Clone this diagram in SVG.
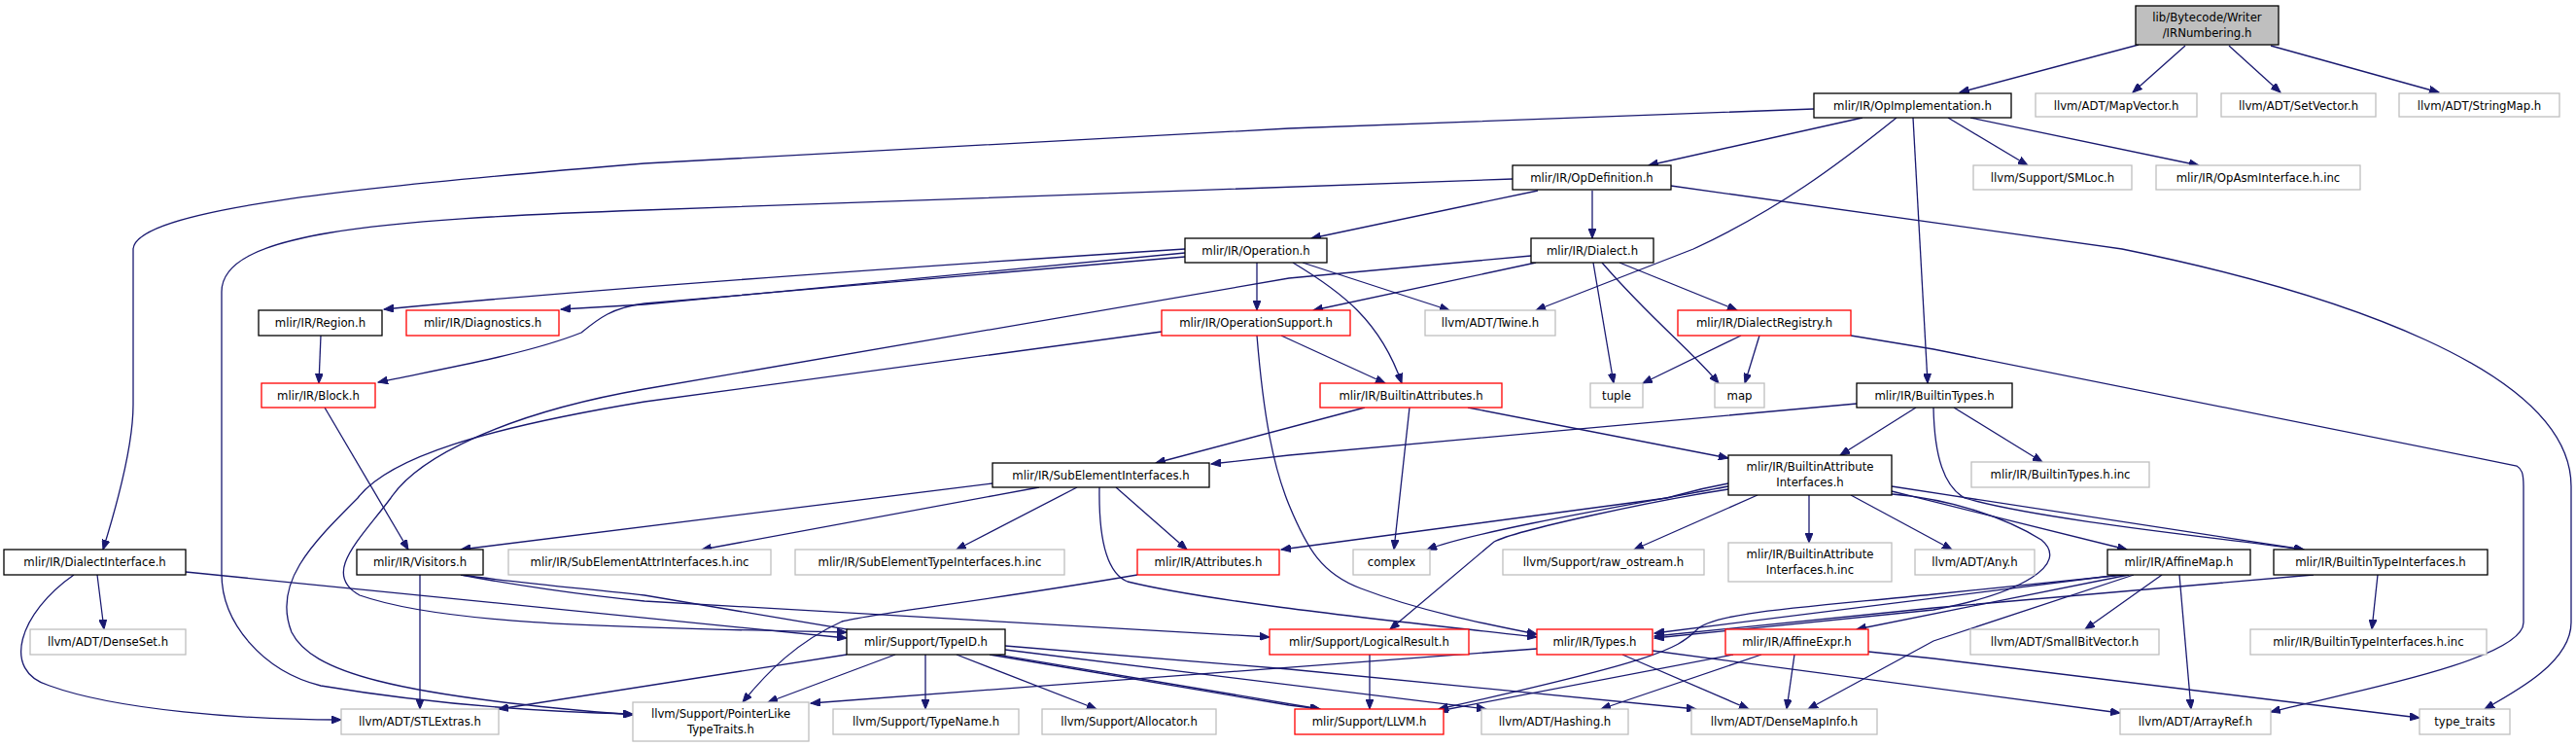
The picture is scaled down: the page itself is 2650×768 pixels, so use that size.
<svg xmlns="http://www.w3.org/2000/svg" width="2650" height="768" viewBox="0 0 2650 768">
<defs>
<marker id="ah" markerUnits="userSpaceOnUse" markerWidth="11" markerHeight="8" refX="10" refY="4" orient="auto">
<path d="M0,0 L10,4 L0,8 z" fill="#191970" stroke="#191970" stroke-width="1"/>
</marker>
</defs>
<style>
.e path{fill:none;stroke:#191970;stroke-width:1.3;marker-end:url(#ah)}
rect{fill:#fff;stroke-width:1.3}
.k rect{stroke:#000}
.r rect{stroke:#ff0000}
.g rect{stroke:#bfbfbf}
.root rect{fill:#bfbfbf;stroke:#000}
text{font-family:"DejaVu Sans Condensed","DejaVu Sans",sans-serif;font-stretch:condensed;font-size:13px;fill:#000;text-anchor:middle}
</style>
<rect x="0" y="0" width="2650" height="768" fill="#fff" stroke="none"/>
<g class="e" id="edges">
<path d="M2200,46 L2016,95"/>
<path d="M2248,47 L2194,95"/>
<path d="M2293,47 L2346,95"/>
<path d="M2336,47 L2509,95"/>
<path d="M1866,112 L1326,132 L663,168 C368,192 140,215 137,256 L137,416 C137,460 120,520 106,565"/>
<path d="M1916,121 L1696,170"/>
<path d="M1951,121 C1890,170 1830,215 1742,256 L1580,319"/>
<path d="M2004,121 L2086,170"/>
<path d="M2027,121 L2262,170"/>
<path d="M1968,121 C1975,250 1980,330 1983,394"/>
<path d="M1582,196 L1349,245"/>
<path d="M1638,196 L1638,245"/>
<path d="M1556,184 L663,216 C380,226 228,240 228,300 L228,590 C228,640 270,690 330,705 C450,725 560,732 651,734"/>
<path d="M1719,191 L2183,256 C2400,300 2645,380 2645,500 L2645,640 C2645,680 2590,710 2556,729"/>
<path d="M1219,256 Q663,292 395,318"/>
<path d="M1219,260 L663,313 L577,318"/>
<path d="M1219,264 L663,312 C630,316 615,328 598,342 C540,365 450,380 389,393"/>
<path d="M1293,270 L1293,319"/>
<path d="M1340,270 L1491,319"/>
<path d="M1330,270 C1380,300 1420,330 1442,394"/>
<path d="M1580,270 L1351,319"/>
<path d="M1575,263 L1326,286 L663,400 C520,425 430,470 402,512 C370,555 330,590 370,612 C450,640 600,645 871,650"/>
<path d="M1639,270 L1660,394"/>
<path d="M1648,270 C1700,330 1740,360 1768,394"/>
<path d="M1666,270 L1787,319"/>
<path d="M1791,345 L1690,394"/>
<path d="M1810,345 L1795,394"/>
<path d="M1904,345 L1989,359 L2589,479 C2594,482 2596,486 2596,500 L2596,640 C2596,680 2400,715 2336,732"/>
<path d="M1318,345 L1425,394"/>
<path d="M1293,345 C1300,430 1310,480 1326,519 C1345,565 1360,590 1400,605 C1460,628 1530,642 1581,652"/>
<path d="M1195,341 L663,413 C500,440 400,470 368,512 C320,560 280,600 300,650 C320,690 400,715 651,735"/>
<path d="M1404,419 L1189,476"/>
<path d="M1910,415 L1326,468 L1246,477"/>
<path d="M1450,419 L1434,565"/>
<path d="M1510,419 L1778,471"/>
<path d="M1971,419 L1893,468"/>
<path d="M2010,419 L2101,475"/>
<path d="M1989,419 C1990,470 2000,500 2021,512 C2100,535 2300,555 2370,565"/>
<path d="M1778,497 C1745,503 1730,508 1715,512 L1318,565"/>
<path d="M1778,500 C1700,515 1520,545 1468,565"/>
<path d="M1778,503 C1700,515 1560,545 1537,557 L1430,647"/>
<path d="M1808,509 L1681,565"/>
<path d="M1861,509 L1861,558"/>
<path d="M1904,509 L2008,565"/>
<path d="M1946,505 L2188,565"/>
<path d="M1946,500 L2370,565"/>
<path d="M1946,508 C2000,512 2060,530 2100,555 C2130,580 2080,610 1989,627 L1702,656"/>
<path d="M2190,591 L1910,647"/>
<path d="M2180,591 L1702,651"/>
<path d="M2224,591 L2145,647"/>
<path d="M2242,591 L2254,729"/>
<path d="M2195,591 L1989,659 L1860,729"/>
<path d="M2185,591 L1989,611 C1850,625 1760,630 1745,648 C1725,668 1700,680 1480,729"/>
<path d="M2380,591 L1989,625 L1702,654"/>
<path d="M2446,591 L2440,647"/>
<path d="M1783,673 L1480,731"/>
<path d="M1812,673 L1647,729"/>
<path d="M1846,673 L1838,729"/>
<path d="M1922,670 L1989,677 L2489,738"/>
<path d="M1669,673 L1799,729"/>
<path d="M1700,669 L2181,733"/>
<path d="M1581,667 L834,723"/>
<path d="M871,673 L513,729"/>
<path d="M921,673 L790,722"/>
<path d="M952,673 L952,729"/>
<path d="M984,673 L1128,729"/>
<path d="M1018,673 L1326,725 L1358,729"/>
<path d="M1034,668 L1529,729"/>
<path d="M1034,664 L1326,688 L1745,729"/>
<path d="M432,591 L432,729"/>
<path d="M474,591 C520,600 600,612 663,618 L1306,655"/>
<path d="M474,591 C540,600 600,605 663,612 L1358,729"/>
<path d="M100,591 L107,647"/>
<path d="M76,591 C20,630 0,690 51,705 C120,730 250,740 351,740"/>
<path d="M191,588 L871,656"/>
<path d="M334,419 L420,565"/>
<path d="M330,345 L328,394"/>
<path d="M1021,497 L474,565"/>
<path d="M1069,501 L722,565"/>
<path d="M1108,501 L984,565"/>
<path d="M1148,501 L1221,565"/>
<path d="M1131,501 C1130,560 1140,590 1160,598 C1250,620 1450,640 1581,655"/>
<path d="M1170,591 C1000,620 900,630 866,639 C820,660 790,690 764,722"/>
<path d="M1409,673 L1409,729"/>
</g>
<g id="n0" class="root"><rect x="2197" y="6" width="147" height="40"/><text x="2270.5" y="22">lib/Bytecode/Writer</text><text x="2270.5" y="38">/IRNumbering.h</text></g>
<g id="n1" class="k"><rect x="1866" y="96" width="203" height="25"/><text x="1967.5" y="113">mlir/IR/OpImplementation.h</text></g>
<g id="n2" class="g"><rect x="2094" y="96" width="166" height="24"/><text x="2177" y="113">llvm/ADT/MapVector.h</text></g>
<g id="n3" class="g"><rect x="2285" y="96" width="159" height="24"/><text x="2364.5" y="113">llvm/ADT/SetVector.h</text></g>
<g id="n4" class="g"><rect x="2468" y="96" width="165" height="24"/><text x="2550.5" y="113">llvm/ADT/StringMap.h</text></g>
<g id="n5" class="g"><rect x="2030" y="170" width="163" height="25"/><text x="2111.5" y="187">llvm/Support/SMLoc.h</text></g>
<g id="n6" class="g"><rect x="2218" y="170" width="210" height="25"/><text x="2323" y="187">mlir/IR/OpAsmInterface.h.inc</text></g>
<g id="n7" class="k"><rect x="1556" y="170" width="163" height="25"/><text x="1637.5" y="187">mlir/IR/OpDefinition.h</text></g>
<g id="n8" class="k"><rect x="1575" y="245" width="126" height="25"/><text x="1638" y="262">mlir/IR/Dialect.h</text></g>
<g id="n9" class="k"><rect x="1219" y="245" width="146" height="25"/><text x="1292" y="262">mlir/IR/Operation.h</text></g>
<g id="n10" class="k"><rect x="266" y="319" width="127" height="26"/><text x="329.5" y="336">mlir/IR/Region.h</text></g>
<g id="n11" class="r"><rect x="418" y="319" width="157" height="26"/><text x="496.5" y="336">mlir/IR/Diagnostics.h</text></g>
<g id="n12" class="r"><rect x="269" y="394" width="117" height="25"/><text x="327.5" y="411">mlir/IR/Block.h</text></g>
<g id="n13" class="r"><rect x="1195" y="319" width="194" height="26"/><text x="1292" y="336">mlir/IR/OperationSupport.h</text></g>
<g id="n14" class="k"><rect x="1021" y="476" width="223" height="25"/><text x="1132.5" y="493">mlir/IR/SubElementInterfaces.h</text></g>
<g id="n15" class="g"><rect x="1466" y="319" width="134" height="26"/><text x="1533" y="336">llvm/ADT/Twine.h</text></g>
<g id="n16" class="r"><rect x="1726" y="319" width="178" height="26"/><text x="1815" y="336">mlir/IR/DialectRegistry.h</text></g>
<g id="n17" class="r"><rect x="1358" y="394" width="187" height="25"/><text x="1451.5" y="411">mlir/IR/BuiltinAttributes.h</text></g>
<g id="n18" class="g"><rect x="1636" y="394" width="54" height="25"/><text x="1663" y="411">tuple</text></g>
<g id="n19" class="g"><rect x="1764" y="394" width="51" height="25"/><text x="1789.5" y="411">map</text></g>
<g id="n20" class="k"><rect x="1910" y="394" width="160" height="25"/><text x="1990" y="411">mlir/IR/BuiltinTypes.h</text></g>
<g id="n21" class="k"><rect x="1778" y="468" width="168" height="41"/><text x="1862" y="484">mlir/IR/BuiltinAttribute</text><text x="1862" y="500">Interfaces.h</text></g>
<g id="n22" class="g"><rect x="2028" y="475" width="183" height="26"/><text x="2119.5" y="492">mlir/IR/BuiltinTypes.h.inc</text></g>
<g id="n23" class="k"><rect x="4" y="565" width="187" height="26"/><text x="97.5" y="582">mlir/IR/DialectInterface.h</text></g>
<g id="n24" class="g"><rect x="31" y="647" width="160" height="26"/><text x="111" y="664">llvm/ADT/DenseSet.h</text></g>
<g id="n25" class="k"><rect x="367" y="565" width="130" height="26"/><text x="432" y="582">mlir/IR/Visitors.h</text></g>
<g id="n26" class="g"><rect x="351" y="729" width="162" height="26"/><text x="432" y="746">llvm/ADT/STLExtras.h</text></g>
<g id="n27" class="g"><rect x="523" y="565" width="270" height="26"/><text x="658" y="582">mlir/IR/SubElementAttrInterfaces.h.inc</text></g>
<g id="n28" class="g"><rect x="651" y="722" width="181" height="40"/><text x="741.5" y="738">llvm/Support/PointerLike</text><text x="741.5" y="754">TypeTraits.h</text></g>
<g id="n29" class="g"><rect x="818" y="565" width="277" height="26"/><text x="956.5" y="582">mlir/IR/SubElementTypeInterfaces.h.inc</text></g>
<g id="n30" class="r"><rect x="1170" y="565" width="146" height="26"/><text x="1243" y="582">mlir/IR/Attributes.h</text></g>
<g id="n31" class="k"><rect x="871" y="647" width="163" height="26"/><text x="952.5" y="664">mlir/Support/TypeID.h</text></g>
<g id="n32" class="r"><rect x="1306" y="647" width="205" height="26"/><text x="1408.5" y="664">mlir/Support/LogicalResult.h</text></g>
<g id="n33" class="g"><rect x="857" y="729" width="191" height="26"/><text x="952.5" y="746">llvm/Support/TypeName.h</text></g>
<g id="n34" class="g"><rect x="1072" y="729" width="179" height="26"/><text x="1161.5" y="746">llvm/Support/Allocator.h</text></g>
<g id="n35" class="g"><rect x="1392" y="565" width="79" height="26"/><text x="1431.5" y="582">complex</text></g>
<g id="n36" class="g"><rect x="1546" y="565" width="207" height="26"/><text x="1649.5" y="582">llvm/Support/raw_ostream.h</text></g>
<g id="n37" class="g"><rect x="1778" y="558" width="168" height="40"/><text x="1862" y="574">mlir/IR/BuiltinAttribute</text><text x="1862" y="590">Interfaces.h.inc</text></g>
<g id="n38" class="r"><rect x="1581" y="647" width="119" height="26"/><text x="1640.5" y="664">mlir/IR/Types.h</text></g>
<g id="n39" class="r"><rect x="1775" y="647" width="147" height="26"/><text x="1848.5" y="664">mlir/IR/AffineExpr.h</text></g>
<g id="n40" class="r"><rect x="1332" y="729" width="153" height="26"/><text x="1408.5" y="746">mlir/Support/LLVM.h</text></g>
<g id="n41" class="g"><rect x="1524" y="729" width="151" height="26"/><text x="1599.5" y="746">llvm/ADT/Hashing.h</text></g>
<g id="n42" class="g"><rect x="1740" y="729" width="191" height="26"/><text x="1835.5" y="746">llvm/ADT/DenseMapInfo.h</text></g>
<g id="n43" class="g"><rect x="1970" y="565" width="123" height="26"/><text x="2031.5" y="582">llvm/ADT/Any.h</text></g>
<g id="n44" class="k"><rect x="2168" y="565" width="147" height="26"/><text x="2241.5" y="582">mlir/IR/AffineMap.h</text></g>
<g id="n45" class="k"><rect x="2339" y="565" width="220" height="26"/><text x="2449" y="582">mlir/IR/BuiltinTypeInterfaces.h</text></g>
<g id="n46" class="g"><rect x="2027" y="647" width="194" height="26"/><text x="2124" y="664">llvm/ADT/SmallBitVector.h</text></g>
<g id="n47" class="g"><rect x="2315" y="647" width="243" height="26"/><text x="2436.5" y="664">mlir/IR/BuiltinTypeInterfaces.h.inc</text></g>
<g id="n48" class="g"><rect x="2181" y="729" width="155" height="26"/><text x="2258.5" y="746">llvm/ADT/ArrayRef.h</text></g>
<g id="n49" class="g"><rect x="2489" y="729" width="93" height="26"/><text x="2535.5" y="746">type_traits</text></g>
</svg>
